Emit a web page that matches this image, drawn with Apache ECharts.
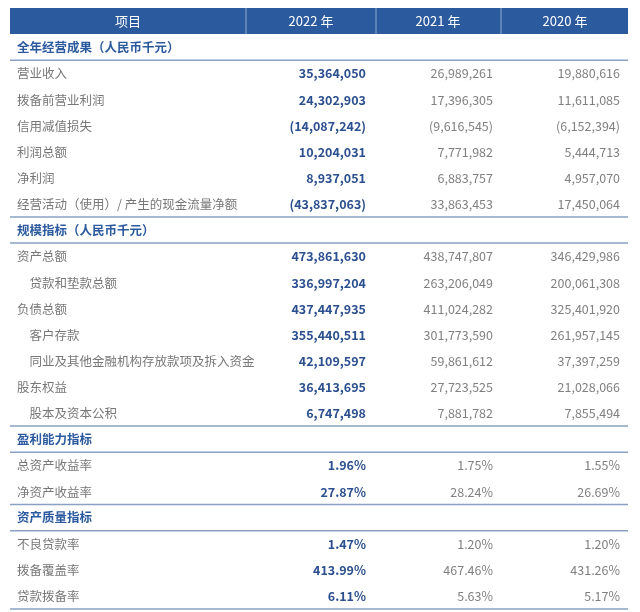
<!DOCTYPE html><html><head><meta charset="utf-8">
<script src="https://cdn.jsdelivr.net/npm/echarts@6/dist/echarts.min.js"></script>
<style>html,body{margin:0;background:#fff}#c{width:640px;height:612px}</style></head><body><div id="c"></div>
<script>
const headers = ['项目','2022 年','2021 年','2020 年'];
const sections = ['全年经营成果（人民币千元）','规模指标（人民币千元）','盈利能力指标','资产质量指标'];
const labels = [
 ['营业收入','拨备前营业利润','信用减值损失','利润总额','净利润','经营活动（使用）/ 产生的现金流量净额'],
 ['资产总额','　贷款和垫款总额','负债总额','　客户存款','　同业及其他金融机构存放款项及拆入资金','股东权益','　股本及资本公积'],
 ['总资产收益率','净资产收益率'],
 ['不良贷款率','拨备覆盖率','贷款拨备率']];
const v2022 = [
 ['35,364,050','24,302,903','(14,087,242)','10,204,031','8,937,051','(43,837,063)'],
 ['473,861,630','336,997,204','437,447,935','355,440,511','42,109,597','36,413,695','6,747,498'],
 ['1.96%','27.87%'],['1.47%','413.99%','6.11%']];
const v2021 = [
 ['26,989,261','17,396,305','(9,616,545)','7,771,982','6,883,757','33,863,453'],
 ['438,747,807','263,206,049','411,024,282','301,773,590','59,861,612','27,723,525','7,881,782'],
 ['1.75%','28.24%'],['1.20%','467.46%','5.63%']];
const v2020 = [
 ['19,880,616','11,611,085','(6,152,394)','5,444,713','4,957,070','17,450,064'],
 ['346,429,986','200,061,308','325,401,920','261,957,145','37,397,259','21,028,066','7,855,494'],
 ['1.55%','26.69%'],['1.20%','431.26%','5.17%']];

const F='"Noto Sans CJK SC","Noto Sans",sans-serif';
const L=10,R=628,blue='#2b5a9e',g=[],H=26.14;
g.push({type:'rect',shape:{x:L,y:8,width:R-L,height:26},style:{fill:blue}});
[246,376,501].forEach(x=>g.push({type:'line',shape:{x1:x,y1:8,x2:x,y2:34},style:{stroke:'#8fa9cf',lineWidth:1}}));
const hc=[128,311,438,565];
headers.forEach((h,i)=>g.push({type:'text',style:{text:h,x:hc[i],y:21,fill:'#fff',font:'13px '+F,align:'center',verticalAlign:'middle'}}));
const line=y=>g.push({type:'line',shape:{x1:L,y1:y,x2:R,y2:y},style:{stroke:'#8aa0c4',lineWidth:1.5}});
let y=34;
sections.forEach((s,si)=>{
  g.push({type:'text',style:{text:s,x:17,y:y+13,fill:blue,font:'bold 12.5px '+F,verticalAlign:'middle'}});
  y+=H; line(y);
  labels[si].forEach((lab,ri)=>{
    const cy=y+13.5;
    g.push({type:'text',style:{text:lab,x:17,y:cy,fill:'#777',font:'12.5px '+F,verticalAlign:'middle'}});
    g.push({type:'text',style:{text:v2022[si][ri],x:366,y:cy,fill:'#2b4f8f',font:'bold 12.5px '+F,align:'right',verticalAlign:'middle'}});
    g.push({type:'text',style:{text:v2021[si][ri],x:493,y:cy,fill:'#808080',font:'12.5px '+F,align:'right',verticalAlign:'middle'}});
    g.push({type:'text',style:{text:v2020[si][ri],x:620,y:cy,fill:'#808080',font:'12.5px '+F,align:'right',verticalAlign:'middle'}});
    y+=H;
  });
  line(y);
});
const ch=echarts.init(document.getElementById('c'));
ch.setOption({animation:false,graphic:g});
</script></body></html>
